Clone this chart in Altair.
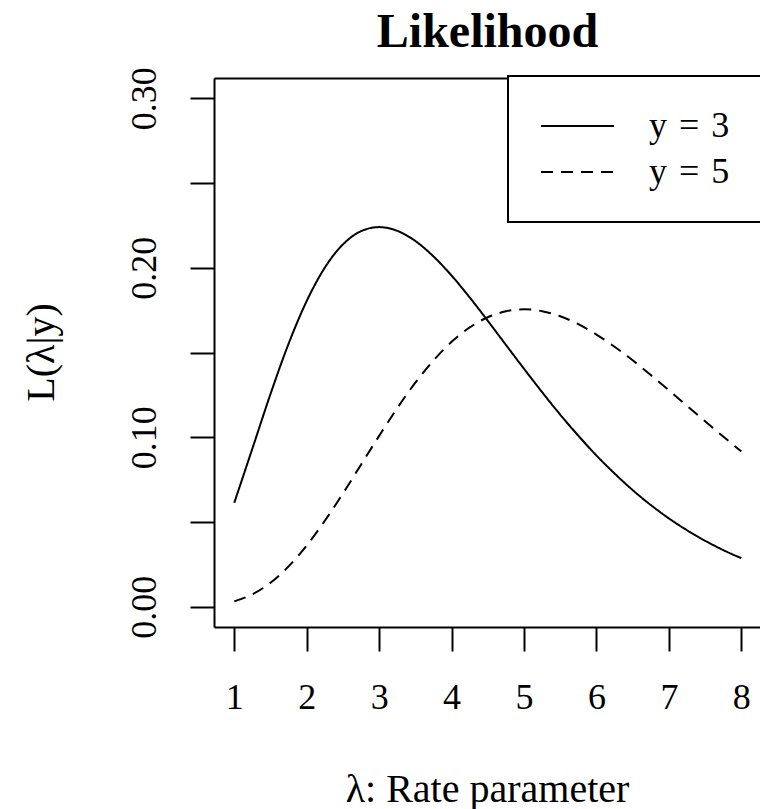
import altair as alt
import pandas as pd

# Rate parameter grid (lambda) and the likelihood values
lam = [1.0, 1.25, 1.5, 1.75, 2.0, 2.25, 2.5, 2.75, 3.0, 3.25, 3.5, 3.75, 4.0, 4.25,
       4.5, 4.75, 5.0, 5.25, 5.5, 5.75, 6.0, 6.25, 6.5, 6.75, 7.0, 7.25, 7.5, 7.75, 8.0]
like_y3 = [0.0613, 0.0933, 0.1255, 0.1552, 0.1804, 0.2001, 0.2138, 0.2216, 0.2240,
           0.2218, 0.2158, 0.2067, 0.1954, 0.1825, 0.1687, 0.1545, 0.1404, 0.1266,
           0.1133, 0.1009, 0.0892, 0.0786, 0.0688, 0.0600, 0.0521, 0.0451, 0.0389,
           0.0334, 0.0286]
like_y5 = [0.0031, 0.0073, 0.0141, 0.0238, 0.0361, 0.0507, 0.0668, 0.0838, 0.1008,
           0.1172, 0.1322, 0.1453, 0.1563, 0.1648, 0.1708, 0.1743, 0.1755, 0.1744,
           0.1714, 0.1667, 0.1606, 0.1534, 0.1454, 0.1367, 0.1277, 0.1185, 0.1094,
           0.1004, 0.0916]
# legend labels (math-style wider spacing around "=")
series_names = ["y\u2004=\u20043", "y\u2004=\u20045"]
x_ticks = [1, 2, 3, 4, 5, 6, 7, 8]
y_ticks = [0.0, 0.05, 0.10, 0.15, 0.20, 0.25, 0.30]

df = pd.concat([
    pd.DataFrame({"lam": lam, "L": like_y3, "series": series_names[0]}),
    pd.DataFrame({"lam": lam, "L": like_y5, "series": series_names[1]}),
])

FONT = "Liberation Serif"
W, H = 546, 549

xscale = alt.Scale(domain=[0.72, 8.258], nice=False, zero=False)
yscale = alt.Scale(domain=[-0.012, 0.312], nice=False, zero=False)

lines = alt.Chart(df).mark_line(color="black", strokeWidth=2, interpolate="monotone").encode(
    x=alt.X("lam:Q", scale=xscale,
            axis=alt.Axis(values=x_ticks, tickSize=24, tickWidth=2, tickColor="black",
                          domainColor="black", domainWidth=2, grid=False,
                          labelFont=FONT, labelFontSize=36, labelColor="black",
                          labelPadding=29, labelFlush=False, labelOverlap=False,
                          title="λ: Rate parameter", titleFont=FONT, titleFontSize=40,
                          titleFontWeight="normal", titleColor="black",
                          titleBaseline="alphabetic", titleX=273, titleY=174,
                          titleAnchor="middle")),
    y=alt.Y("L:Q", scale=yscale,
            axis=alt.Axis(values=y_ticks, tickSize=24, tickWidth=2, tickColor="black",
                          domainColor="black", domainWidth=2, grid=False,
                          labelExpr="round(datum.value*100) % 10 == 0 ? format(datum.value, '.2f') : ''",
                          labelAngle=270, labelAlign="center", labelBaseline="alphabetic",
                          labelFont=FONT, labelFontSize=36, labelColor="black",
                          labelPadding=35, labelFlush=False, labelOverlap=False,
                          title="L(λ|y)", titleFont=FONT, titleFontSize=40,
                          titleFontWeight="normal", titleColor="black",
                          titleAngle=270, titleBaseline="alphabetic",
                          titleX=-161, titleY=274, titleAlign="center")),
    strokeDash=alt.StrokeDash("series:N",
                              scale=alt.Scale(domain=series_names, range=[[1, 0], [12, 8]]),
                              legend=alt.Legend(title=None, orient="top-right", offset=-2,
                                                symbolType="stroke", symbolSize=5329,
                                                symbolStrokeWidth=2, symbolStrokeColor="black",
                                                labelFont=FONT, labelFontSize=36,
                                                labelColor="black", labelOffset=34,
                                                clipHeight=36,
                                                padding=32, rowPadding=10,
                                                strokeColor="black", fillColor="white",
                                                cornerRadius=0)),
)

# top edge of the box, carrying the main title
top_border = alt.Chart(df).mark_line(opacity=0).encode(
    x=alt.X("lam:Q", scale=xscale,
            axis=alt.Axis(orient="top", ticks=False, labels=False, grid=False,
                          domainColor="black", domainWidth=2,
                          title="Likelihood", titleFont=FONT, titleFontSize=48,
                          titleFontWeight="bold", titleColor="black",
                          titleBaseline="alphabetic", titleX=273, titleY=-32,
                          titleAnchor="middle")),
    y=alt.Y("L:Q", scale=yscale),
)

chart = alt.layer(lines, top_border).resolve_axis(x="independent").properties(
    width=W, height=H,
    autosize=alt.AutoSizeParams(type="none"),
    padding={"left": 214, "top": 78, "right": 0, "bottom": 182},
).configure_view(stroke=None).configure_legend(strokeWidth=2)

chart.save("out.html", embed_options={"renderer": "svg", "actions": False})
